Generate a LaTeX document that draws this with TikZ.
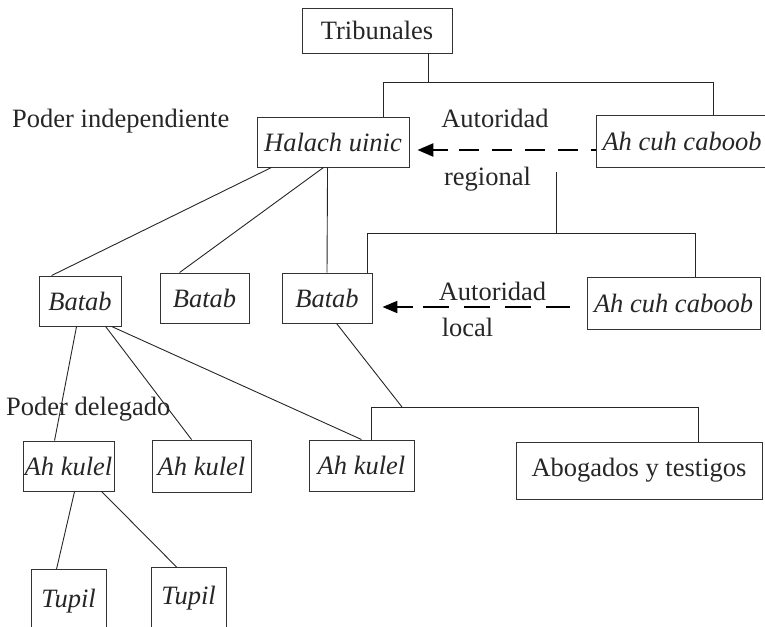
\documentclass[tikz,border=0pt]{standalone}
\usepackage{fontspec}
\setmainfont{Liberation Serif}
\usetikzlibrary{calc,arrows.meta}
\begin{document}
\begin{tikzpicture}[x=1pt,y=-1pt,
  every node/.style={font=\fontsize{26.5}{30}\selectfont, text=black!85},
  box/.style={draw=black!80, line width=0.9pt, inner sep=0pt, minimum height=50pt},
  it/.style={font=\fontsize{26.5}{30}\selectfont\itshape},
  lbl/.style={inner sep=0pt, anchor=base},
  ln/.style={draw=black!85, line width=0.9pt},
  arrA/.style={draw=black, line width=2.5pt},
  arrB/.style={draw=black, line width=2pt},
]
\useasboundingbox (0,0) rectangle (765,626);
\clip (0,0) rectangle (765,626);

% boxes
\node[box, minimum width=150pt, minimum height=45pt] (trib) at (377,30.5) {Tribunales};
\node[box, it, minimum width=152pt] (halach) at (333,142) {Halach uinic};
\node[box, it, minimum width=172pt, minimum height=52pt] (cuhA) at (682,141) {Ah cuh caboob};
\node[box, it, minimum width=82pt] (batabA) at (80,301) {Batab};
\node[box, it, minimum width=89pt] (batabB) at (204.5,298) {Batab};
\node[box, it, minimum width=90pt] (batabC) at (327,298) {Batab};
\node[box, it, minimum width=173pt, minimum height=52pt] (cuhB) at (673.5,303) {Ah cuh caboob};
\node[box, it, minimum width=91pt] (kulelA) at (68.5,466) {Ah kulel};
\node[box, it, minimum width=99pt, minimum height=52pt] (kulelB) at (201.5,466) {Ah kulel};
\node[box, it, minimum width=105pt, minimum height=51pt] (kulelC) at (361.5,465.5) {Ah kulel};
\node[box, minimum width=246pt, minimum height=57pt] (abog) at (639,470.5) {Abogados y testigos};
\node[box, it, minimum width=75pt, minimum height=0pt, text height=38pt, text depth=50pt, anchor=north] (tupilA) at (68.5,569) {Tupil};
\node[box, it, minimum width=75pt, minimum height=0pt, text height=37.5pt, text depth=50pt, anchor=north] (tupilB) at (188.5,567) {Tupil};

% labels
\node[lbl, anchor=base west] (pind) at (12,127) {Poder independiente};
\node[lbl, anchor=base west] (pdel) at (6,415) {Poder delegado};
\node[lbl] (autA) at (495,127.5) {Autoridad};
\node[lbl] (regA) at (487.5,185) {regional};
\node[lbl] (autB) at (492.5,300.5) {Autoridad};
\node[lbl] (locB) at (467.5,336) {local};

% bracket 1 (Tribunales)
\coordinate (jA) at (428,82);
\coordinate (bAl) at (383,82);
\coordinate (bAr) at (713,82);
\draw[ln] (trib.south -| jA) -- (jA);
\draw[ln] (halach.north -| bAl) -- (bAl) -- (bAr) -- (cuhA.north -| bAr);

% bracket 2
\coordinate (jBtop) at (556,172);
\coordinate (jB) at (556,233);
\coordinate (bBl) at (367,233);
\coordinate (bBr) at (695,233);
\draw[ln] (jBtop) -- (jB);
\draw[ln] (batabC.north -| bBl) -- (bBl) -- (bBr) -- (cuhB.north -| bBr);

% bracket 3
\coordinate (jC) at (402,407);
\coordinate (bCl) at (371,407);
\coordinate (bCr) at (698,407);
\draw[ln] (kulelC.north -| bCl) -- (bCl) -- (bCr) -- (abog.north -| bCr);
\draw[ln] ($(batabC.south west)+(55,0)$) -- (jC);

% Halach uinic to Batab
\draw[ln] ($(halach.south west)+(15,0)$) -- ($(batabA.north west)+(13,0)$);
\draw[ln] ($(halach.south west)+(67,0)$) -- ($(batabB.north west)+(20,0)$);
\draw[ln] ($(halach.south west)+(71,0)$) -- (batabC.north);

% Batab to Ah kulel
\draw[ln] ($(batabA.south west)+(38,0)$) -- ($(kulelA.north west)+(32,0)$);
\draw[ln] ($(batabA.south west)+(67,0)$) -- ($(kulelB.north west)+(40,0)$);
\draw[ln] ($(batabA.south west)+(73,0)$) -- ($(kulelC.north west)+(53,0)$);

% Ah kulel to Tupil
\draw[ln] ($(kulelA.south west)+(52,0)$) -- ($(tupilA.north west)+(26,0)$);
\draw[ln] ($(kulelA.south west)+(79,0)$) -- ($(tupilB.north west)+(26,0)$);

% arrow regional
\draw[arrA, dash pattern=on 20pt off 13pt] ($(halach.east)+(50,8)$) -- ($(cuhA.west)+(0,9)$);
\draw[arrA, -{Triangle[length=16pt,width=13pt]}] ($(halach.east)+(39,8)$) -- ($(halach.east)+(8,8)$);

% arrow local
\draw[arrB, dash pattern=on 26pt off 15pt] ($(batabC.east)+(51,9)$) -- ($(cuhB.west)+(-17,4)$);
\draw[arrB, -{Triangle[length=15pt,width=12pt]}] ($(batabC.east)+(41,9)$) -- ($(batabC.east)+(10,9)$);
\end{tikzpicture}
\end{document}
